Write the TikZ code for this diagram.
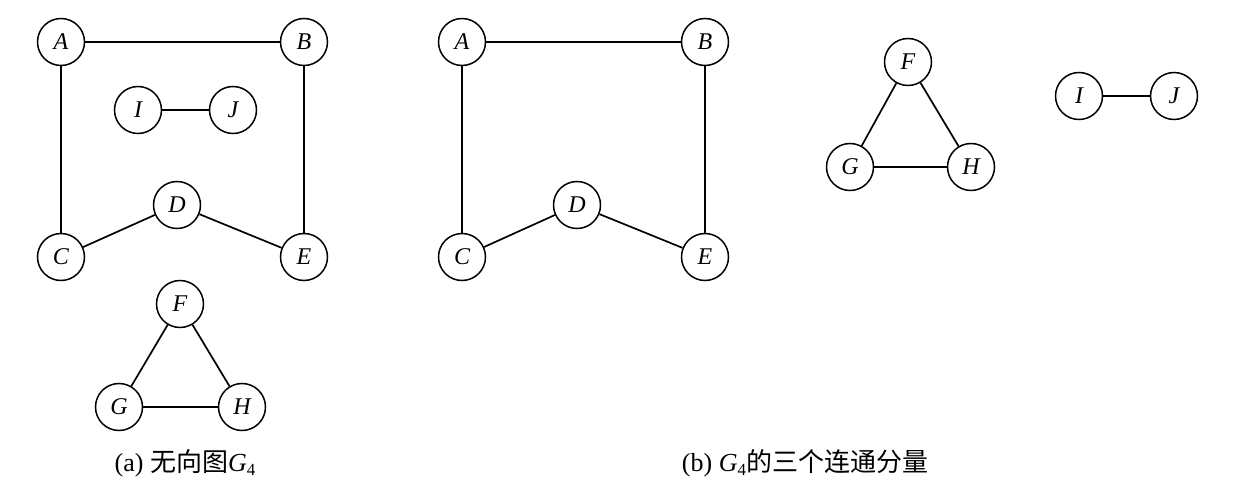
\documentclass[tikz,border=0pt]{standalone}
\usepackage{fontspec}
\setmainfont{Liberation Serif}
\newfontfamily\cjk{Noto Sans CJK SC}
\begin{document}
\begin{tikzpicture}[x=1pt,y=-1pt,
  vtx/.style={circle,draw,line width=1.5pt,minimum size=47pt,inner sep=0pt,font=\fontsize{24}{24}\selectfont\itshape},
  edge/.style={line width=1.7pt},
  captext/.style={font=\fontsize{26}{28}\selectfont,anchor=base}]
\useasboundingbox (0,0) rectangle (1250,502);
% (a)
\node[vtx] (A) at (61,42) {A};
\node[vtx] (B) at (304,42) {B};
\node[vtx] (I) at (138,110) {I};
\node[vtx] (J) at (233,110) {J};
\node[vtx] (D) at (177,205) {D};
\node[vtx] (C) at (61,257) {C};
\node[vtx] (E) at (304,257) {E};
\node[vtx] (F) at (180,304) {F};
\node[vtx] (G) at (119,407) {G};
\node[vtx] (H) at (242,407) {H};
\draw[edge] (A) -- (B);
\draw[edge] (A) -- (C);
\draw[edge] (B) -- (E);
\draw[edge] (C) -- (D);
\draw[edge] (D) -- (E);
\draw[edge] (I) -- (J);
\draw[edge] (F) -- (G);
\draw[edge] (F) -- (H);
\draw[edge] (G) -- (H);
% (b)
\node[vtx] (A2) at (462,42) {A};
\node[vtx] (B2) at (705,42) {B};
\node[vtx] (D2) at (577,205) {D};
\node[vtx] (C2) at (462,257) {C};
\node[vtx] (E2) at (705,257) {E};
\node[vtx] (F2) at (908,62) {F};
\node[vtx] (G2) at (850,167) {G};
\node[vtx] (H2) at (971,167) {H};
\node[vtx] (I2) at (1079,96) {I};
\node[vtx] (J2) at (1174,96) {J};
\draw[edge] (A2) -- (B2);
\draw[edge] (A2) -- (C2);
\draw[edge] (B2) -- (E2);
\draw[edge] (C2) -- (D2);
\draw[edge] (D2) -- (E2);
\draw[edge] (F2) -- (G2);
\draw[edge] (F2) -- (H2);
\draw[edge] (G2) -- (H2);
\draw[edge] (I2) -- (J2);
% captions
\node[captext] (capa) at (185,471) {(a) {\cjk 无向图}\textit{G}\raisebox{-0.35ex}{\fontsize{17}{17}\selectfont 4}};
\node[captext] (capb) at (805,471) {(b) \textit{G}\raisebox{-0.35ex}{\fontsize{17}{17}\selectfont 4}{\cjk 的三个连通分量}};
\end{tikzpicture}
\end{document}
